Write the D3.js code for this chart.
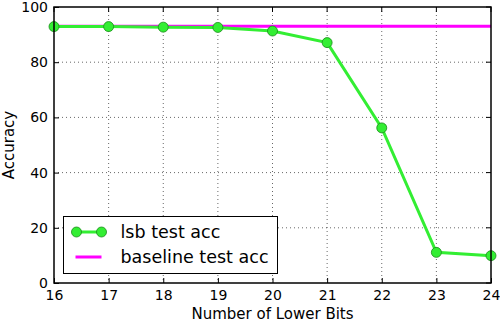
<!DOCTYPE html>
<html>
<head>
<meta charset="utf-8">
<script src="https://cdn.jsdelivr.net/npm/d3@7"></script>
<style>
  body { margin: 0; background: #fff; }
  svg { font-family: "DejaVu Sans", sans-serif; }
</style>
</head>
<body>
<div id="chart"></div>
<script>
// data
var bits = [16, 17, 18, 19, 20, 21, 22, 23, 24];
var lsbAcc = [92.9, 92.9, 92.7, 92.6, 91.3, 87.1, 56.2, 11.1, 9.9];
var baselineAcc = 93.0;
var xTicks = [16, 17, 18, 19, 20, 21, 22, 23, 24];
var yTicks = [0, 20, 40, 60, 80, 100];

var svgWidth = 500;
var svgHeight = 324;
var margin = { top: 7, right: 9, bottom: 41, left: 54 };
var width = svgWidth - margin.left - margin.right;
var height = svgHeight - margin.top - margin.bottom;

var svg = d3.select("#chart")
  .append("svg")
  .attr("width", svgWidth)
  .attr("height", svgHeight);

var chartGroup = svg.append("g")
  .attr("transform", `translate(${margin.left}, ${margin.top})`);

var xScale = d3.scaleLinear().domain([16, 24]).range([0, width]);
var yScale = d3.scaleLinear().domain([0, 100]).range([height, 0]);

// grid (dotted, like matplotlib classic)
chartGroup.append("g").selectAll("line")
  .data(xTicks.slice(1, -1))
  .enter().append("line")
  .attr("x1", d => xScale(d)).attr("x2", d => xScale(d))
  .attr("y1", 0).attr("y2", height)
  .attr("stroke", "#000").attr("stroke-width", 0.6)
  .attr("stroke-dasharray", "1,3");

chartGroup.append("g").selectAll("line")
  .data(yTicks.slice(1, -1))
  .enter().append("line")
  .attr("y1", d => yScale(d)).attr("y2", d => yScale(d))
  .attr("x1", 0).attr("x2", width)
  .attr("stroke", "#000").attr("stroke-width", 0.6)
  .attr("stroke-dasharray", "1,3");

// axes with inward ticks
var bottomAxis = d3.axisBottom(xScale).tickValues(xTicks).tickSizeInner(-5).tickSizeOuter(0).tickPadding(7);
var leftAxis = d3.axisLeft(yScale).tickValues(yTicks).tickSizeInner(-5).tickSizeOuter(0).tickPadding(6);

var xAxis = chartGroup.append("g")
  .attr("transform", `translate(0,${height})`)
  .call(bottomAxis);
var yAxis = chartGroup.append("g").call(leftAxis);
[xAxis, yAxis].forEach(function(a) {
  a.select(".domain").remove();
  a.selectAll("text").attr("font-size", 14).attr("fill", "#000").attr("font-family", "DejaVu Sans");
  a.selectAll("line").attr("stroke", "#000");
});

// top ticks and right ticks
chartGroup.append("g").selectAll("line").data(xTicks).enter().append("line")
  .attr("x1", d => xScale(d)).attr("x2", d => xScale(d))
  .attr("y1", 0).attr("y2", 5).attr("stroke", "#000");
chartGroup.append("g").selectAll("line").data(yTicks).enter().append("line")
  .attr("y1", d => yScale(d)).attr("y2", d => yScale(d))
  .attr("x1", width).attr("x2", width - 5).attr("stroke", "#000");

// baseline
chartGroup.append("line")
  .attr("x1", xScale(16)).attr("x2", xScale(24))
  .attr("y1", yScale(baselineAcc)).attr("y2", yScale(baselineAcc))
  .attr("stroke", "#ff00ff").attr("stroke-width", 3);

// lsb line
var line = d3.line()
  .x((d, i) => xScale(bits[i]))
  .y(d => yScale(d));

chartGroup.append("path")
  .datum(lsbAcc)
  .attr("d", line)
  .attr("fill", "none")
  .attr("stroke", "#33ee33")
  .attr("stroke-width", 3);

chartGroup.selectAll("circle.pt")
  .data(lsbAcc)
  .enter().append("circle")
  .attr("class", "pt")
  .attr("cx", (d, i) => xScale(bits[i]))
  .attr("cy", d => yScale(d))
  .attr("r", 5)
  .attr("fill", "#33ee33")
  .attr("stroke", "#1a8a1a")
  .attr("stroke-width", 0.8);

// frame
chartGroup.append("rect")
  .attr("width", width).attr("height", height)
  .attr("fill", "none").attr("stroke", "#000").attr("stroke-width", 1.5);

// legend
var legend = svg.append("g").attr("transform", "translate(63.5, 216.5)");
legend.append("rect")
  .attr("width", 214).attr("height", 57)
  .attr("fill", "#fff").attr("stroke", "#000").attr("stroke-width", 1);
legend.append("line")
  .attr("x1", 13).attr("x2", 38).attr("y1", 15.5).attr("y2", 15.5)
  .attr("stroke", "#33ee33").attr("stroke-width", 3);
[13, 38].forEach(function(cx) {
  legend.append("circle").attr("cx", cx).attr("cy", 15.5).attr("r", 5)
    .attr("fill", "#33ee33").attr("stroke", "#1a8a1a").attr("stroke-width", 0.8);
});
legend.append("line")
  .attr("x1", 12).attr("x2", 38).attr("y1", 40.5).attr("y2", 40.5)
  .attr("stroke", "#ff00ff").attr("stroke-width", 3);
legend.append("text").attr("x", 57).attr("y", 21)
  .attr("font-size", 17.5).text("lsb test acc");
legend.append("text").attr("x", 57).attr("y", 46.5)
  .attr("font-size", 17.5).text("baseline test acc");

// axis labels
svg.append("text")
  .attr("x", margin.left + width / 2).attr("y", 319)
  .attr("text-anchor", "middle").attr("font-size", 15)
  .text("Number of Lower Bits");
svg.append("text")
  .attr("transform", `translate(14, ${margin.top + height / 2}) rotate(-90)`)
  .attr("text-anchor", "middle").attr("font-size", 15)
  .text("Accuracy");
</script>
</body>
</html>
